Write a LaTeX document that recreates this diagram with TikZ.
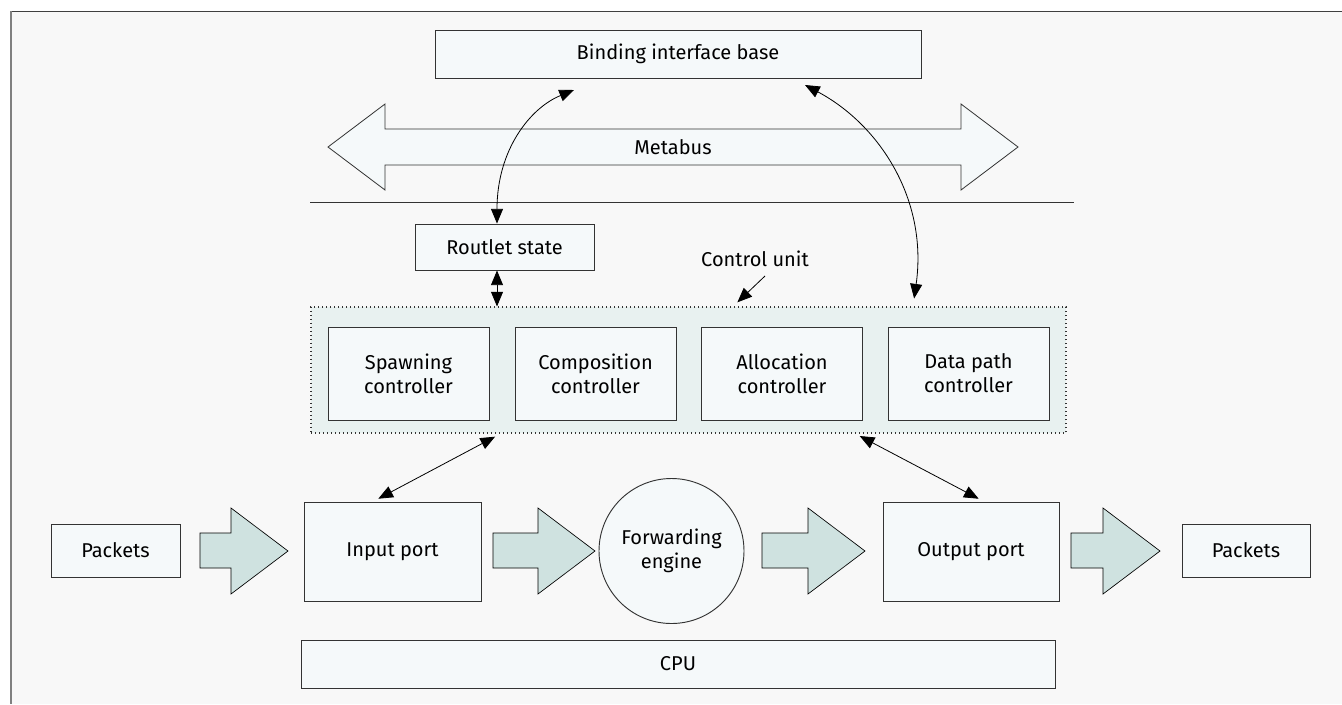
\documentclass[tikz,border=0pt]{standalone}
\usepackage{fontspec}
\setmainfont{Fira Sans}
\usetikzlibrary{arrows.meta}
\definecolor{panelbg}{HTML}{F8F8F8}
\definecolor{boxfill}{HTML}{F5F9FA}
\definecolor{unitfill}{HTML}{E8F1F0}
\definecolor{flowfill}{HTML}{CFE2E0}
\definecolor{edge}{HTML}{333333}

\begin{document}
\begin{tikzpicture}[x=0.75pt,y=-0.75pt,font=\fontsize{15}{18}\selectfont,
  box/.style={draw=edge,fill=boxfill,line width=0.7pt,align=center,inner sep=0pt},
  tip/.style={line width=0.6pt,-{Triangle[length=11pt,width=9pt]}},
  twotip/.style={line width=0.6pt,{Triangle[length=11pt,width=9pt]}-{Triangle[length=11pt,width=9pt]}},
  flow/.style={draw=black,fill=flowfill,line width=0.5pt}]
\useasboundingbox (0,0) rectangle (1342,704);
\fill[panelbg] (11,11) rectangle (1342,704);
\draw[black!75,line width=0.75pt] (11,11) -- (1342,11);
\draw[black!50,line width=1.5pt] (11,11) -- (11,704);

\node[box,minimum width=364.5pt,minimum height=36pt] (bib) at (678,54) {Binding interface base};
\draw[fill=boxfill,draw=edge,line width=0.6pt] (328,147) -- (385,104) -- (385,129) -- (961,129) -- (961,104) -- (1018,147) -- (961,190) -- (961,165) -- (385,165) -- (385,190) -- cycle;
\node (mbus) at (673,147) {Metabus};
\draw[edge,line width=0.75pt] (310,202) -- (1074,202);

\node[box,minimum width=134.25pt,minimum height=34.5pt] (rs) at (504.5,247) {Routlet state};
\node (cu) at (755,259) {Control unit};
\node[draw=edge,fill=unitfill,line width=0.8pt,dash pattern=on 1pt off 2pt,minimum width=566.25pt,minimum height=94.5pt] (cunit) at (688.5,370) {};
\foreach \name/\xc/\txt in {spawn/408.5/{Spawning\\controller},comp/595.5/{Composition\\controller},alloc/782/{Allocation\\controller},dpath/968.5/{Data path\\controller}}
  \node[box,minimum width=120.75pt,minimum height=69.75pt] (\name) at (\xc,373.5) {\txt};

\node[box,minimum width=96.75pt,minimum height=39.75pt] (pktin) at (115.5,550.5) {Packets};
\node[box,minimum width=132.75pt,minimum height=74.25pt] (inport) at (392.5,551.5) {Input port};
\node[box,circle,minimum size=108.75pt] (fwd) at (671.5,551) {Forwarding\\engine};
\node[box,minimum width=132pt,minimum height=74.25pt] (outport) at (971,551.5) {Output port};
\node[box,minimum width=96pt,minimum height=39.75pt] (pktout) at (1246,550.5) {Packets};
\node[box,minimum width=565.5pt,minimum height=36pt] (cpu) at (678,664) {CPU};

\foreach \t/\b/\p in {200/231/288,493/538/595,762/808/865,1071/1103/1160}
  \draw[flow] (\t,533) -- (\b,533) -- (\b,508) -- (\p,551) -- (\b,594) -- (\b,568) -- (\t,568) -- cycle;

\coordinate (bibl) at (574,90);
\coordinate (bibr) at (805,85);
\coordinate (cutail) at (765,276);
\draw[twotip] (rs.north -| 497,0) .. controls (497,150) and (530,108) .. (bibl);
\draw[twotip,shorten >=6pt] (bibr) .. controls (880,125) and (928,200) .. (cunit.north -| 913,0);
\draw[twotip] (rs.south -| 497,0) -- (cunit.north -| 497,0);
\draw[tip,shorten >=4.5pt] (cutail) -- (cunit.north -| 733,0);
\draw[twotip,shorten <=5pt,shorten >=4.5pt] (cunit.south -| 501,0) -- (inport.north -| 373,0);
\draw[twotip,shorten <=4pt,shorten >=4.5pt] (cunit.south -| 855,0) -- (outport.north -| 984,0);
\end{tikzpicture}
\end{document}
